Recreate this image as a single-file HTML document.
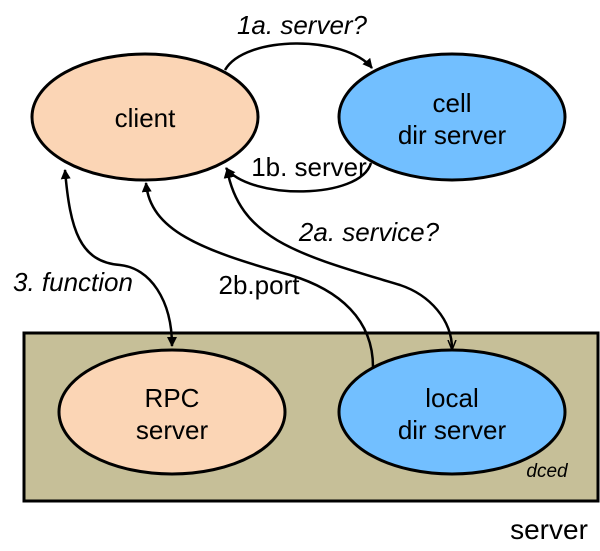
<!DOCTYPE html>
<html><head><meta charset="utf-8"><style>html,body{margin:0;padding:0;background:#fff}svg{display:block}</style></head>
<body>
<svg width="600" height="551" viewBox="0 0 600 551" xmlns="http://www.w3.org/2000/svg" font-family="Liberation Sans, Arial, sans-serif">
<defs>
<marker id="ah" viewBox="0 0 10 10" refX="9" refY="5" markerWidth="10" markerHeight="10" orient="auto-start-reverse" markerUnits="userSpaceOnUse">
<path d="M0,0 L10,5 L0,10 z" fill="#000"/></marker>
<marker id="ao" viewBox="0 0 10 10" refX="9" refY="5" markerWidth="10" markerHeight="10" orient="auto-start-reverse" markerUnits="userSpaceOnUse">
<path d="M0,1 L10,5 L0,9" fill="none" stroke="#000" stroke-width="1.5"/></marker>
</defs>
<rect x="24" y="333" width="574" height="168" fill="#c6bf98" stroke="#000" stroke-width="3"/>
<ellipse cx="145" cy="117" rx="113" ry="63" fill="#fbd5b5" stroke="#000" stroke-width="3"/>
<ellipse cx="452" cy="117" rx="113" ry="63" fill="#72bfff" stroke="#000" stroke-width="3"/>
<ellipse cx="172" cy="412" rx="113" ry="62" fill="#fbd5b5" stroke="#000" stroke-width="3"/>
<ellipse cx="452" cy="412" rx="113" ry="62" fill="#72bfff" stroke="#000" stroke-width="3"/>
<g fill="none" stroke="#000" stroke-width="2.5">
<path d="M225,70 C245,35 345,35 372,68" marker-end="url(#ah)"/>
<path d="M371,163 C360,200 250,200 226,168" marker-end="url(#ah)"/>
<path d="M65,170 C70,230 80,262 120,265 C150,268 172,300 172,346" marker-start="url(#ah)" marker-end="url(#ah)"/>
<path d="M373,367 C373,320 340,290 290,275 C200,250 150,230 146,183" marker-end="url(#ah)"/>
<path d="M452,349 C452,320 430,295 400,285 C300,255 240,240 227,169" marker-start="url(#ao)" marker-end="url(#ah)"/>
</g>
<g font-size="26" fill="#000" text-anchor="middle">
<text x="145" y="127">client</text>
<text x="452" y="112">cell</text>
<text x="452" y="144">dir server</text>
<text x="172" y="407">RPC</text>
<text x="172" y="439">server</text>
<text x="452" y="407">local</text>
<text x="452" y="439">dir server</text>
<text x="302" y="34" font-style="italic">1a. server?</text>
<text x="309" y="176">1b. server</text>
<text x="369" y="241" font-style="italic">2a. service?</text>
<text x="73" y="291" font-style="italic">3. function</text>
<text x="259" y="294">2b.port</text>
<text x="549" y="539" font-size="28">server</text>
<text x="547" y="477" font-size="19" font-style="italic">dced</text>
</g>
</svg>
</body></html>
